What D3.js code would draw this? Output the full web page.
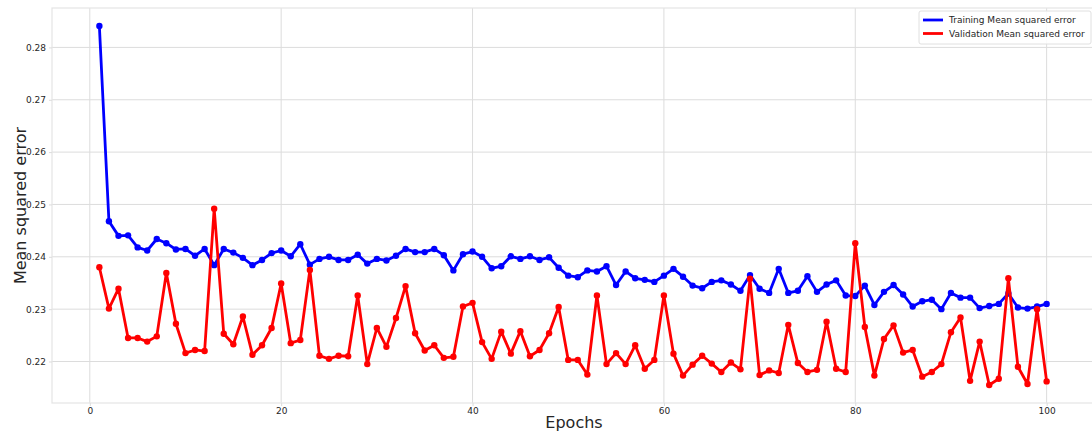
<!DOCTYPE html>
<html>
<head>
<meta charset="utf-8">
<script src="https://cdn.jsdelivr.net/npm/d3@7"></script>
<style>
  html, body { margin: 0; padding: 0; background: #ffffff; }
  svg { display: block; font-family: "DejaVu Sans", sans-serif; }
</style>
</head>
<body>
<svg id="chart" width="1092" height="434"></svg>
<script>
// Per-epoch mean squared error for the training and validation sets
const epochs = d3.range(1, 101);

const trainMSE = [
  0.2841, 0.2468, 0.2440, 0.2441, 0.2418, 0.2412, 0.2434, 0.2426, 0.2414, 0.2415,
  0.2402, 0.2415, 0.2384, 0.2415, 0.2408, 0.2398, 0.2384, 0.2394, 0.2407, 0.2412,
  0.2401, 0.2424, 0.2385, 0.2396, 0.2400, 0.2394, 0.2394, 0.2404, 0.2387, 0.2396,
  0.2393, 0.2402, 0.2415, 0.2409, 0.2409, 0.2415, 0.2403, 0.2374, 0.2405, 0.2410,
  0.2400, 0.2378, 0.2382, 0.2401, 0.2396, 0.2401, 0.2394, 0.2399, 0.2379, 0.2364,
  0.2361, 0.2374, 0.2372, 0.2382, 0.2346, 0.2372, 0.2359, 0.2356, 0.2352, 0.2364,
  0.2377, 0.2362, 0.2345, 0.2340, 0.2352, 0.2355, 0.2347, 0.2335, 0.2365, 0.2339,
  0.2331, 0.2377, 0.2331, 0.2335, 0.2363, 0.2333, 0.2347, 0.2355, 0.2326, 0.2325,
  0.2345, 0.2308, 0.2333, 0.2346, 0.2328, 0.2305, 0.2315, 0.2318, 0.2300, 0.2331,
  0.2322, 0.2322, 0.2302, 0.2306, 0.2310, 0.2330, 0.2303, 0.2301, 0.2305, 0.2310
];

const valMSE = [
  0.2380, 0.2301, 0.2339, 0.2245, 0.2245, 0.2238, 0.2248, 0.2369, 0.2272, 0.2216,
  0.2222, 0.2220, 0.2492, 0.2253, 0.2233, 0.2286, 0.2213, 0.2231, 0.2264, 0.2349,
  0.2235, 0.2241, 0.2375, 0.2211, 0.2205, 0.2211, 0.2210, 0.2326, 0.2195, 0.2264,
  0.2228, 0.2283, 0.2344, 0.2254, 0.2221, 0.2231, 0.2207, 0.2209, 0.2305, 0.2312,
  0.2237, 0.2205, 0.2257, 0.2215, 0.2258, 0.2210, 0.2222, 0.2254, 0.2304, 0.2203,
  0.2203, 0.2175, 0.2326, 0.2195, 0.2216, 0.2195, 0.2231, 0.2186, 0.2203, 0.2326,
  0.2215, 0.2173, 0.2194, 0.2211, 0.2196, 0.2180, 0.2198, 0.2185, 0.2358, 0.2174,
  0.2183, 0.2178, 0.2270, 0.2197, 0.2180, 0.2184, 0.2276, 0.2186, 0.2180, 0.2426,
  0.2266, 0.2173, 0.2243, 0.2269, 0.2217, 0.2222, 0.2171, 0.2180, 0.2195, 0.2256,
  0.2284, 0.2163, 0.2238, 0.2155, 0.2167, 0.2359, 0.2190, 0.2157, 0.2300, 0.2162
];

const xTicks = [0, 20, 40, 60, 80, 100];
const yTicks = [0.22, 0.23, 0.24, 0.25, 0.26, 0.27, 0.28];

const seriesList = [
  { name: "Training Mean squared error", values: trainMSE, color: "#0000ff" },
  { name: "Validation Mean squared error", values: valMSE, color: "#ff0000" }
];

const svg = d3.select("#chart");
const plot = { left: 52, top: 8, right: 1094, bottom: 403 };

// Domains padded by 5% of the data span on each side
const xMin = d3.min(epochs), xMax = d3.max(epochs);
const xPad = (xMax - xMin) * 0.05;
const allVals = trainMSE.concat(valMSE);
const yMin = d3.min(allVals), yMax = d3.max(allVals);
const yPad = (yMax - yMin) * 0.05;

const x = d3.scaleLinear().domain([xMin - xPad, xMax + xPad]).range([plot.left, plot.right]);
const y = d3.scaleLinear().domain([yMin - yPad, yMax + yPad]).range([plot.bottom, plot.top]);

const gridColor = "#dcdcdc";

// Grid lines
svg.append("g").selectAll("line.vgrid").data(xTicks).join("line")
  .attr("x1", d => x(d)).attr("x2", d => x(d))
  .attr("y1", plot.top).attr("y2", plot.bottom)
  .attr("stroke", gridColor).attr("stroke-width", 1);

svg.append("g").selectAll("line.hgrid").data(yTicks).join("line")
  .attr("x1", plot.left).attr("x2", plot.right)
  .attr("y1", d => y(d)).attr("y2", d => y(d))
  .attr("stroke", gridColor).attr("stroke-width", 1);

// Frame
svg.append("rect")
  .attr("x", plot.left).attr("y", plot.top)
  .attr("width", plot.right - plot.left).attr("height", plot.bottom - plot.top)
  .attr("fill", "none").attr("stroke", "#e4e4e4").attr("stroke-width", 1.2);

// Axes (labels only, light tick stubs)
const xAxis = d3.axisBottom(x).tickValues(xTicks).tickFormat(d3.format("d")).tickSize(3).tickPadding(2);
const gx = svg.append("g").attr("transform", `translate(0,${plot.bottom})`).call(xAxis);
const yAxis = d3.axisLeft(y).tickValues(yTicks).tickFormat(d3.format(".2f")).tickSize(3).tickPadding(3);
const gy = svg.append("g").attr("transform", `translate(${plot.left},0)`).call(yAxis);

[gx, gy].forEach(g => {
  g.select(".domain").remove();
  g.selectAll(".tick line").attr("stroke", gridColor);
  g.selectAll(".tick text")
    .attr("fill", "#262626")
    .style("font-family", "DejaVu Sans, sans-serif")
    .style("font-size", "9px");
});

// Axis titles
svg.append("text")
  .attr("x", (plot.left + 1092) / 2 + 2).attr("y", 428)
  .attr("text-anchor", "middle")
  .attr("fill", "#262626")
  .style("font-size", "16px")
  .text("Epochs");

svg.append("text")
  .attr("transform", `translate(26,${(plot.top + plot.bottom) / 2}) rotate(-90)`)
  .attr("text-anchor", "middle")
  .attr("fill", "#262626")
  .style("font-size", "16px")
  .text("Mean squared error");

// Series lines and markers
const line = d3.line().x((d, i) => x(epochs[i])).y(d => y(d));

seriesList.forEach(s => {
  const g = svg.append("g");
  g.append("path")
    .datum(s.values)
    .attr("d", line)
    .attr("fill", "none")
    .attr("stroke", s.color)
    .attr("stroke-width", 2.8)
    .attr("stroke-linejoin", "round");
  g.selectAll("circle").data(s.values).join("circle")
    .attr("cx", (d, i) => x(epochs[i]))
    .attr("cy", d => y(d))
    .attr("r", 3.2)
    .attr("fill", s.color);
});

// Legend
const legend = svg.append("g").attr("transform", "translate(919,11)");
legend.append("rect")
  .attr("x", 0).attr("y", 0).attr("width", 172).attr("height", 33)
  .attr("rx", 2)
  .attr("fill", "#ffffff").attr("fill-opacity", 0.85)
  .attr("stroke", "#e0e0e0").attr("stroke-width", 1);

seriesList.forEach((s, i) => {
  const row = legend.append("g").attr("transform", `translate(4,${9 + i * 13.5})`);
  row.append("line")
    .attr("x1", 0).attr("x2", 20).attr("y1", 0).attr("y2", 0)
    .attr("stroke", s.color).attr("stroke-width", 2.8);
  row.append("text")
    .attr("x", 26).attr("y", 3.3)
    .attr("fill", "#262626")
    .style("font-size", "9px")
    .text(s.name);
});
</script>
</body>
</html>
